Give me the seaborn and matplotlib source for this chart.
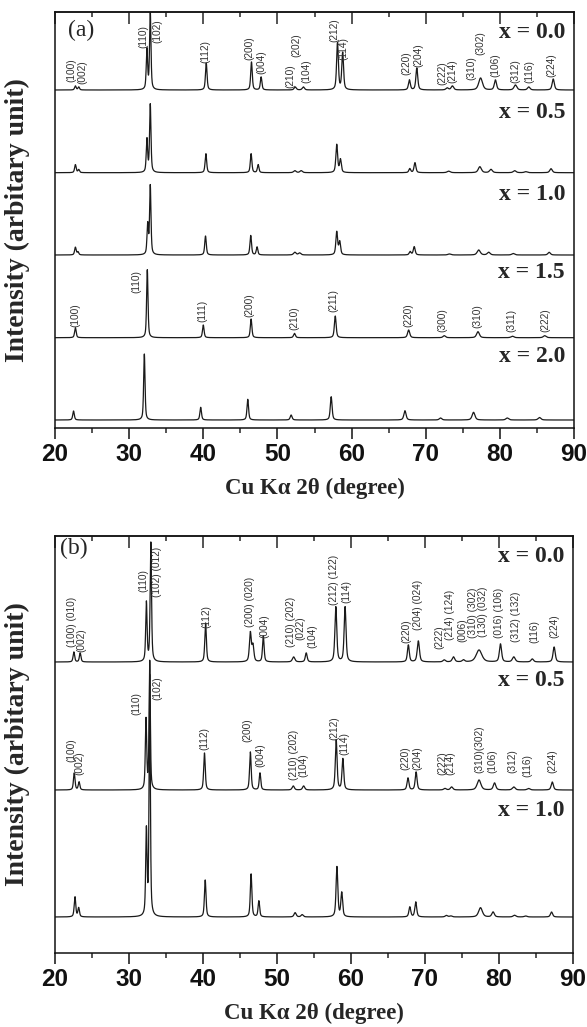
import numpy as np
import pandas as pd
import matplotlib
matplotlib.use("Agg")
import matplotlib.pyplot as plt
import seaborn as sns
from matplotlib.ticker import MultipleLocator

# ---------------- data ----------------
samples_a = ["x = 0.0", "x = 0.5", "x = 1.0", "x = 1.5", "x = 2.0"]
samples_b = ["x = 0.0", "x = 0.5", "x = 1.0"]

# panel (a)
a00_pos = [22.75, 23.2, 32.4, 32.85, 40.4, 46.5, 47.8, 52.4, 53.5, 58.1, 58.8, 67.8, 68.8, 72.9, 73.6, 77.4, 79.4, 82.1, 83.9, 87.2]
a00_h = [4, 3, 40, 78, 27, 28, 13, 3, 3, 47, 37, 10, 22, 2, 4, 12, 10, 5, 3, 11]
a00_w = [0.25, 0.25, 0.22, 0.22, 0.25, 0.25, 0.25, 0.35, 0.35, 0.28, 0.28, 0.3, 0.3, 0.4, 0.4, 0.6, 0.35, 0.45, 0.4, 0.35]

a05_pos = [22.75, 23.2, 32.4, 32.85, 40.35, 46.45, 47.4, 52.35, 53.2, 58.0, 58.5, 67.85, 68.55, 73.1, 77.3, 78.8, 82.0, 83.5, 86.9]
a05_h = [8, 3, 33, 68, 19, 19, 8, 2, 2, 28, 13, 4, 10, 1.5, 6, 3.3, 2, 1, 4]
a05_w = [0.25, 0.25, 0.22, 0.22, 0.25, 0.25, 0.25, 0.4, 0.4, 0.28, 0.28, 0.3, 0.3, 0.5, 0.5, 0.45, 0.45, 0.45, 0.4]

a10_pos = [22.75, 23.1, 32.5, 32.85, 40.3, 46.4, 47.25, 52.35, 53.0, 58.0, 58.4, 67.9, 68.45, 73.2, 77.15, 78.5, 81.8, 86.65]
a10_h = [7.7, 3, 30, 69, 19, 19.5, 8, 2.7, 2, 23, 13, 3.3, 8.3, 1, 5, 2.7, 1.5, 2.7]
a10_w = [0.25, 0.25, 0.22, 0.22, 0.25, 0.25, 0.25, 0.4, 0.4, 0.28, 0.28, 0.3, 0.3, 0.5, 0.5, 0.45, 0.45, 0.4]

a15_pos = [22.75, 32.45, 40.0, 46.45, 52.3, 57.8, 67.7, 72.5, 77.05, 81.7, 86.05]
a15_h = [10, 68, 12.7, 18.7, 4.3, 21.7, 7.7, 2, 6, 1.5, 2]
a15_w = [0.25, 0.22, 0.25, 0.25, 0.3, 0.28, 0.35, 0.4, 0.45, 0.45, 0.45]

a20_pos = [22.5, 32.05, 39.65, 46.0, 51.85, 57.25, 67.2, 72.0, 76.45, 81.0, 85.35]
a20_h = [9, 66, 12.7, 20.7, 5, 23.3, 9.3, 2, 7.7, 2, 2.5]
a20_w = [0.25, 0.22, 0.25, 0.25, 0.3, 0.28, 0.35, 0.4, 0.45, 0.45, 0.45]

# panel (b)
b00_pos = [22.55, 23.4, 32.35, 32.95, 40.35, 46.4, 46.75, 48.15, 52.25, 53.95, 57.95, 59.2, 67.75, 69.1, 72.6, 73.85, 75.2, 77.3, 80.2, 82.0, 84.5, 87.45]
b00_h = [10, 9, 59, 119, 39, 29, 16, 26, 5, 9, 55, 55, 17, 21, 2, 5, 2, 12, 18, 5, 3, 15]
b00_w = [0.25, 0.25, 0.22, 0.22, 0.25, 0.3, 0.3, 0.25, 0.4, 0.3, 0.3, 0.3, 0.3, 0.35, 0.4, 0.4, 0.4, 0.9, 0.35, 0.45, 0.4, 0.35]

b05_pos = [22.6, 23.25, 32.3, 32.8, 40.2, 46.4, 47.7, 52.2, 53.6, 58.0, 58.9, 67.7, 68.8, 72.7, 73.6, 77.3, 79.4, 82.0, 84.0, 87.2]
b05_h = [17, 8, 70, 128, 37, 38, 17, 4, 4, 50, 31, 12, 18, 1.5, 3, 10, 7, 3, 1.5, 8]
b05_w = [0.25, 0.25, 0.22, 0.2, 0.25, 0.25, 0.25, 0.35, 0.35, 0.28, 0.28, 0.3, 0.3, 0.4, 0.4, 0.6, 0.4, 0.45, 0.45, 0.35]

b10_pos = [22.7, 23.2, 32.35, 32.8, 40.3, 46.5, 47.55, 52.45, 53.4, 58.1, 58.75, 67.95, 68.75, 72.9, 73.5, 77.5, 79.2, 82.1, 83.6, 87.1]
b10_h = [20, 9, 85, 240, 37, 43, 16, 4.3, 2.3, 50, 24, 10, 15, 1.5, 1, 9.3, 5, 1.7, 1, 5]
b10_w = [0.25, 0.25, 0.22, 0.2, 0.25, 0.25, 0.25, 0.35, 0.35, 0.28, 0.28, 0.3, 0.3, 0.4, 0.4, 0.6, 0.4, 0.45, 0.45, 0.35]

# Miller-index annotations: (text, 2theta, height above the axis floor)
a00_hkl = [("(100)", 22.25, 346), ("(002)", 23.75, 344), ("(110)", 31.9, 380), ("(102)", 33.8, 385),
           ("(112)", 40.3, 365), ("(200)", 46.2, 368), ("(004)", 47.9, 354), ("(210)", 51.8, 340),
           ("(202)", 52.6, 371), ("(104)", 53.9, 345), ("(212)", 57.7, 386), ("(114)", 58.9, 368),
           ("(220)", 67.4, 353), ("(204)", 69.0, 361), ("(222)", 72.3, 343), ("(214)", 73.6, 345),
           ("(310)", 76.1, 348), ("(302)", 77.4, 373), ("(106)", 79.4, 351), ("(312)", 82.1, 345),
           ("(116)", 84.0, 345), ("(224)", 86.9, 351)]
a15_hkl = [("(100)", 22.7, 101), ("(110)", 31.0, 135), ("(111)", 39.9, 106), ("(200)", 46.2, 111),
           ("(210)", 52.3, 98), ("(211)", 57.5, 116), ("(220)", 67.7, 101), ("(300)", 72.3, 96),
           ("(310)", 77.0, 100), ("(311)", 81.6, 96), ("(222)", 86.1, 96)]
b00_hkl = [("(100) (010)", 22.3, 306), ("(002)", 23.5, 301), ("(110)", 32.0, 361),
           ("(102) (012)", 33.8, 356), ("(112)", 40.4, 325), ("(200) (020)", 46.4, 326),
           ("(004)", 48.3, 315), ("(210) (202)", 51.9, 306), ("(022)", 53.1, 313), ("(104)", 54.8, 305),
           ("(212) (122)", 57.75, 348), ("(114)", 59.4, 350), ("(220)", 67.5, 310),
           ("(204) (024)", 69.0, 323), ("(222)", 71.95, 304), ("(214) (124)", 73.35, 313),
           ("(006)", 75.0, 311), ("(310) (302)", 76.45, 315), ("(130) (032)", 77.85, 316),
           ("(016) (106)", 80.0, 315), ("(312) (132)", 82.3, 311), ("(116)", 84.8, 310),
           ("(224)", 87.5, 315)]
b05_hkl = [("(100)", 22.2, 191), ("(002)", 23.3, 178), ("(110)", 31.0, 238), ("(102)", 33.8, 253),
           ("(112)", 40.2, 203), ("(200)", 46.0, 211), ("(004)", 47.7, 186), ("(210) (202)", 52.3, 173),
           ("(104)", 53.6, 176), ("(212)", 57.7, 213), ("(114)", 59.1, 198), ("(220)", 67.4, 183),
           ("(204)", 69.0, 183), ("(222)", 72.3, 178), ("(214)", 73.4, 178), ("(310)(302)", 77.3, 180),
           ("(106)", 79.1, 180), ("(312)", 81.8, 180), ("(116)", 83.8, 176), ("(224)", 87.2, 180)]

xticks = [20, 30, 40, 50, 60, 70, 80, 90]

# ---------------- layout ----------------
offsets_a = [338, 255.3, 173, 90.3, 8]
label_y_a = [396, 315, 233, 155, 71]
offsets_b = [291, 163, 36]
label_y_b = [396, 272.5, 143]

sns.set_style("ticks")
plt.rcParams["font.family"] = ["Liberation Sans", "DejaVu Sans"]
plt.rcParams["axes.linewidth"] = 1.1

SERIF = ["Liberation Serif", "DejaVu Serif"]
grid = np.linspace(20, 90, 7001)


def pattern(pos, h, w):
    y = np.zeros_like(grid)
    for p, hh, ww in zip(pos, h, w):
        hw = ww / 2.0
        lor = 1.0 / (1.0 + ((grid - p) / hw) ** 2)
        gau = np.exp(-np.log(2) * ((grid - p) / hw) ** 2)
        y += hh * (0.55 * lor + 0.45 * gau)
    return y


def build(samples, specs, offsets):
    frames = []
    for name, (pos, h, w), off in zip(samples, specs, offsets):
        frames.append(pd.DataFrame({"two_theta": grid,
                                    "intensity": off + pattern(pos, h, w),
                                    "sample": name}))
    return pd.concat(frames, ignore_index=True)


fig = plt.figure(figsize=(5.87, 10.27), dpi=100)
ax_a = fig.add_axes([55 / 587, 1 - 428 / 1027, 519 / 587, 416 / 1027])
ax_b = fig.add_axes([55 / 587, 1 - 953 / 1027, 518 / 587, 417 / 1027])

df_a = build(samples_a, [(a00_pos, a00_h, a00_w), (a05_pos, a05_h, a05_w), (a10_pos, a10_h, a10_w),
                         (a15_pos, a15_h, a15_w), (a20_pos, a20_h, a20_w)], offsets_a)
df_b = build(samples_b, [(b00_pos, b00_h, b00_w), (b05_pos, b05_h, b05_w), (b10_pos, b10_h, b10_w)], offsets_b)


def style_axes(ax, ytop, panel_tag, samples, label_y, hkl_sets):
    ax.set_xlim(20, 90)
    ax.set_ylim(0, ytop)
    ax.set_yticks([])
    ax.set_xticks(xticks)
    ax.xaxis.set_minor_locator(MultipleLocator(5))
    ax.tick_params(axis="x", which="major", direction="out", length=8, width=1.1,
                   labelsize=17.5, pad=3, colors="#111111")
    ax.tick_params(axis="x", which="minor", direction="out", length=3.8, width=1.1)
    for lab in ax.get_xticklabels():
        lab.set_fontweight("bold")
    sec = ax.secondary_xaxis("top")
    sec.set_xticks(xticks)
    sec.xaxis.set_minor_locator(MultipleLocator(5))
    sec.tick_params(axis="x", which="major", direction="in", length=8.5, width=1.1, labeltop=False)
    sec.tick_params(axis="x", which="minor", direction="in", length=3.8, width=1.1)
    for s in ax.spines.values():
        s.set_visible(True)
        s.set_color("#111111")
    ax.set_xlabel("Cu K\u03b1 2\u03b8 (degree)", fontsize=16.5, fontweight="bold", family=SERIF)
    ax.xaxis.set_label_coords(0.5, -0.145)
    ax.xaxis.label.set_va("center")
    ax.set_ylabel("Intensity (arbitary unit)", fontsize=20, fontweight="bold", family=SERIF)
    ax.yaxis.set_label_coords(-0.072, 0.5)
    ax.yaxis.label.set_va("center")
    ax.text(0.025 if panel_tag == "(a)" else 0.01, 0.955 if panel_tag == "(a)" else 0.97,
            panel_tag, transform=ax.transAxes, fontsize=17, family=SERIF, va="center", ha="left")
    for name, yy in zip(samples, label_y):
        ax.text(88.8, yy, name, fontsize=17, fontweight="bold", family=SERIF, ha="right", va="center")
    for hkl in hkl_sets:
        for txt, xx, yy in hkl:
            ax.text(xx, yy, txt, rotation=90, fontsize=7.3, ha="center", va="bottom",
                    color="#333333", rotation_mode="default")


sns.lineplot(data=df_a, x="two_theta", y="intensity", hue="sample", palette=["#1a1a1a"] * 5,
             estimator=None, sort=False, legend=False, linewidth=0.9, ax=ax_a)
sns.lineplot(data=df_b, x="two_theta", y="intensity", hue="sample", palette=["#1a1a1a"] * 3,
             estimator=None, sort=False, legend=False, linewidth=0.9, ax=ax_b)

style_axes(ax_a, 416, "(a)", samples_a, label_y_a, [a00_hkl, a15_hkl])
style_axes(ax_b, 417, "(b)", samples_b, label_y_b, [b00_hkl, b05_hkl])

fig.savefig("out.png", dpi=100)
